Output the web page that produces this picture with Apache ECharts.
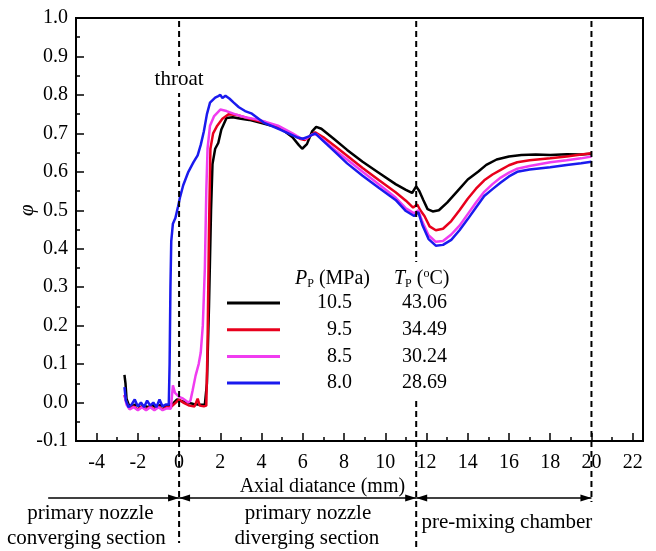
<!DOCTYPE html>
<html>
<head>
<meta charset="utf-8">
<script src="https://cdn.jsdelivr.net/npm/echarts@6/dist/echarts.min.js"></script>
<style>
html, body { margin: 0; padding: 0; background: #fff; }
#chart { width: 656px; height: 551px; }
</style>
</head>
<body>
<div id="chart"></div>
<script>
// legend values
var pressures = ['10.5', '9.5', '8.5', '8.0'];
var temps = ['43.06', '34.49', '30.24', '28.69'];
var colors = ['#000000', '#e8001c', '#f03cf0', '#1a1aee'];

// axis ticks
var xMajorTicks = [-4, -2, 0, 2, 4, 6, 8, 10, 12, 14, 16, 18, 20, 22];
var xMinorTicks = [-5, -3, -1, 1, 3, 5, 7, 9, 11, 13, 15, 17, 19, 21];
var sectionBounds = [0, 11.5, 20];

// phi along the axis
var phi105 = [[-2.65,0.072],[-2.6,0.05],[-2.55,0.01],[-2.45,-0.005],[-2.3,-0.01],[-2.1,-0.005],[-1.9,-0.012],[-1.7,-0.008],[-1.5,-0.012],[-1.3,-0.006],[-1.1,-0.013],[-0.9,-0.006],[-0.7,-0.012],[-0.5,-0.006],[-0.3,-0.003],[-0.1,0.008],[0.1,0.004],[0.4,0.0],[0.7,-0.004],[1.0,-0.006],[1.25,-0.005],[1.35,0.05],[1.45,0.25],[1.55,0.5],[1.62,0.62],[1.75,0.66],[1.9,0.675],[2.05,0.71],[2.3,0.74],[2.6,0.742],[3.0,0.738],[3.4,0.735],[4.0,0.727],[4.5,0.72],[5.0,0.71],[5.5,0.69],[5.8,0.67],[5.97,0.66],[6.2,0.672],[6.45,0.705],[6.65,0.717],[6.9,0.712],[7.5,0.686],[8.15,0.657],[8.9,0.626],[9.7,0.597],[10.5,0.568],[11.0,0.553],[11.3,0.545],[11.5,0.562],[11.65,0.55],[11.85,0.526],[12.05,0.503],[12.3,0.497],[12.6,0.5],[13.0,0.52],[13.5,0.55],[14.0,0.58],[14.5,0.6],[14.9,0.618],[15.4,0.632],[16.0,0.64],[16.6,0.644],[17.3,0.645],[18.0,0.644],[18.8,0.646],[19.5,0.645],[20.0,0.647]];
var phi95 = [[-2.65,0.02],[-2.55,0.0],[-2.4,-0.015],[-2.2,-0.01],[-2.0,-0.018],[-1.8,-0.01],[-1.6,-0.018],[-1.4,-0.01],[-1.2,-0.018],[-1.0,-0.01],[-0.8,-0.018],[-0.6,-0.012],[-0.4,-0.012],[-0.2,-0.002],[0.0,0.008],[0.2,0.0],[0.5,-0.008],[0.75,-0.01],[0.9,0.01],[1.0,-0.008],[1.2,-0.01],[1.32,-0.008],[1.38,0.15],[1.45,0.45],[1.52,0.66],[1.65,0.7],[1.85,0.72],[2.1,0.738],[2.4,0.75],[2.8,0.748],[3.3,0.74],[4.0,0.73],[4.8,0.718],[5.5,0.697],[5.9,0.685],[6.1,0.683],[6.4,0.695],[6.6,0.703],[7.0,0.69],[7.6,0.665],[8.15,0.642],[8.9,0.61],[9.7,0.578],[10.5,0.547],[11.0,0.525],[11.35,0.507],[11.55,0.515],[11.7,0.5],[11.9,0.485],[12.15,0.458],[12.45,0.448],[12.8,0.452],[13.2,0.472],[13.6,0.5],[14.0,0.53],[14.4,0.556],[14.8,0.578],[15.2,0.593],[15.6,0.605],[16.0,0.617],[16.4,0.625],[17.0,0.63],[18.0,0.635],[18.8,0.64],[19.5,0.645],[20.0,0.648]];
var phi85 = [[-2.65,0.02],[-2.55,-0.005],[-2.4,-0.018],[-2.2,-0.012],[-2.0,-0.02],[-1.8,-0.012],[-1.6,-0.02],[-1.4,-0.012],[-1.2,-0.02],[-1.0,-0.012],[-0.8,-0.02],[-0.6,-0.015],[-0.4,-0.016],[-0.3,0.045],[-0.2,0.025],[0.0,0.015],[0.2,0.01],[0.45,0.0],[0.55,0.005],[0.65,0.03],[0.8,0.07],[0.95,0.1],[1.05,0.13],[1.15,0.2],[1.25,0.35],[1.32,0.55],[1.38,0.66],[1.5,0.72],[1.7,0.745],[2.0,0.762],[2.3,0.758],[2.7,0.75],[3.2,0.742],[3.7,0.737],[4.2,0.73],[4.8,0.72],[5.5,0.7],[5.9,0.687],[6.15,0.686],[6.45,0.697],[6.65,0.698],[7.0,0.682],[7.6,0.655],[8.15,0.632],[8.9,0.6],[9.7,0.567],[10.5,0.533],[11.0,0.505],[11.4,0.492],[11.6,0.5],[11.8,0.47],[12.1,0.435],[12.45,0.418],[12.8,0.42],[13.2,0.437],[13.6,0.46],[14.0,0.49],[14.4,0.52],[14.8,0.548],[15.2,0.568],[15.6,0.585],[16.0,0.598],[16.4,0.608],[17.0,0.615],[18.0,0.625],[18.8,0.63],[19.5,0.635],[20.0,0.64]];
var phi80 = [[-2.65,0.04],[-2.58,0.005],[-2.45,-0.012],[-2.3,-0.005],[-2.15,0.008],[-2.0,-0.01],[-1.85,0.0],[-1.7,-0.012],[-1.55,0.005],[-1.4,-0.008],[-1.25,0.0],[-1.1,-0.012],[-0.95,0.008],[-0.8,-0.01],[-0.65,-0.005],[-0.5,-0.005],[-0.46,0.1],[-0.42,0.3],[-0.38,0.42],[-0.3,0.465],[-0.18,0.48],[-0.05,0.51],[0.05,0.535],[0.2,0.565],[0.45,0.6],[0.7,0.625],[0.9,0.643],[1.05,0.67],[1.2,0.705],[1.35,0.75],[1.5,0.78],[1.75,0.793],[1.9,0.797],[2.0,0.8],[2.1,0.792],[2.25,0.798],[2.45,0.79],[2.65,0.78],[2.9,0.768],[3.2,0.758],[3.5,0.752],[4.1,0.728],[4.9,0.71],[5.7,0.69],[6.0,0.686],[6.3,0.692],[6.6,0.7],[7.0,0.68],[7.6,0.65],[8.15,0.622],[8.9,0.59],[9.7,0.558],[10.5,0.527],[11.0,0.498],[11.4,0.485],[11.6,0.495],[11.8,0.462],[12.1,0.425],[12.45,0.408],[12.8,0.41],[13.2,0.423],[13.6,0.448],[14.0,0.477],[14.4,0.507],[14.8,0.537],[15.2,0.555],[15.6,0.572],[16.0,0.588],[16.4,0.6],[17.0,0.606],[18.0,0.612],[18.8,0.618],[19.5,0.622],[20.0,0.626]];

var allData = [phi105, phi95, phi85, phi80];
var font = '"Liberation Serif", "DejaVu Serif", serif';

var chart = echarts.init(document.getElementById('chart'));

var series = allData.map(function (d, i) {
    return {
        name: pressures[i],
        type: 'line',
        data: d,
        symbol: 'none',
        lineStyle: { color: colors[i], width: 2.5 },
        itemStyle: { color: colors[i] }
    };
});

chart.setOption({
    animation: false,
    backgroundColor: '#fff',
    grid: { left: 76, right: 13, top: 18, bottom: 110, show: true, borderColor: '#000', borderWidth: 2 },
    legend: {
        orient: 'vertical',
        left: 227,
        top: 293,
        z: 80,
        padding: 0,
        icon: 'rect',
        itemWidth: 53,
        itemHeight: 3,
        itemGap: 6.7,
        data: pressures,
        selectedMode: false,
        formatter: function (name) {
            var i = pressures.indexOf(name);
            return '{a|' + name + '}{b|' + temps[i] + '}';
        },
        textStyle: {
            rich: {
                a: { width: 67, align: 'right', fontSize: 20, lineHeight: 20, fontFamily: font, color: '#000' },
                b: { width: 95, align: 'right', fontSize: 20, lineHeight: 20, fontFamily: font, color: '#000' }
            }
        }
    },
    xAxis: [{
        type: 'value',
        min: -5,
        max: 22.5,
        axisLine: { onZero: false, lineStyle: { color: '#000', width: 2 } },
        axisTick: { inside: true, length: 8, lineStyle: { color: '#000', width: 1.5 }, customValues: xMajorTicks },
        axisLabel: { fontSize: 20, fontFamily: font, color: '#000', margin: 12, customValues: xMajorTicks },
        splitLine: { show: false }
    }, {
        type: 'value',
        min: -5,
        max: 22.5,
        position: 'bottom',
        axisLine: { show: false, onZero: false },
        axisTick: { inside: true, length: 4, lineStyle: { color: '#000', width: 1.5 }, customValues: xMinorTicks },
        axisLabel: { show: false },
        splitLine: { show: false }
    }],
    yAxis: {
        type: 'value',
        min: -0.1,
        max: 1.0,
        interval: 0.1,
        axisLine: { show: true, onZero: false, lineStyle: { color: '#000', width: 2 } },
        axisTick: { inside: true, length: 8, lineStyle: { color: '#000', width: 1.5 } },
        minorTick: { show: true, splitNumber: 2, length: 4, lineStyle: { color: '#000', width: 1.5 } },
        axisLabel: {
            fontSize: 20, fontFamily: font, color: '#000', margin: 8,
            formatter: function (v) { return v.toFixed(1); }
        },
        splitLine: { show: false },
        minorSplitLine: { show: false }
    },
    series: series
});

// annotations placed from the axis scales
function px(x, y) {
    return chart.convertToPixel({ xAxisIndex: 0, yAxisIndex: 0 }, [x, y]);
}
var plotTop = px(0, 1.0)[1];
var plotBottom = px(0, -0.1)[1];
var arrowY = plotBottom + 57;
var graphics = [];
var dashBottoms = [plotBottom + 102, plotBottom + 110, plotBottom + 61];

sectionBounds.forEach(function (b, i) {
    var x = px(b, 0)[0];
    graphics.push({
        type: 'line', z: 50,
        shape: { x1: x, y1: plotTop + 3, x2: x, y2: dashBottoms[i] },
        style: { stroke: '#000', lineWidth: 2, lineDash: [6, 4] }
    });
});

// white patch where the legend sits over the 11.5 mm line
var gapX = px(sectionBounds[1], 0)[0];
graphics.push({
    type: 'rect', z: 55,
    shape: { x: gapX - 6, y: 262, width: 12, height: 138 },
    style: { fill: '#fff' }
});

function head(x, y, dir) {
    return {
        type: 'polygon', z: 60,
        shape: { points: [[x, y], [x - dir * 11, y - 3.5], [x - dir * 11, y + 3.5]] },
        style: { fill: '#000' }
    };
}
function arrow(x1, x2, both) {
    var a = px(x1, 0)[0], b = px(x2, 0)[0];
    graphics.push({ type: 'line', z: 60, shape: { x1: a, y1: arrowY, x2: b, y2: arrowY }, style: { stroke: '#000', lineWidth: 1.5 } });
    graphics.push(head(b, arrowY, 1));
    if (both) graphics.push(head(a, arrowY, -1));
}
arrow(-6.35, 0, false);
arrow(0, 11.5, true);
arrow(11.5, 20, true);

function label(text, x, y, size) {
    graphics.push({
        type: 'text', z: 70,
        x: x, y: y,
        style: { text: text, fontSize: size || 21, fontFamily: font, fill: '#000', align: 'center', verticalAlign: 'middle' }
    });
}
label('Axial diatance (mm)', px(6.95, 0)[0], plotBottom + 46, 20);
label('primary nozzle', px(-4.3, 0)[0], arrowY + 15);
label('converging section', px(-4.5, 0)[0], arrowY + 40);
label('primary nozzle', px(6.25, 0)[0], arrowY + 15);
label('diverging section', px(6.2, 0)[0], arrowY + 40);
label('pre-mixing chamber', px(15.9, 0)[0], arrowY + 24);

// throat label with white backing over the dashed line
graphics.push({
    type: 'text', z: 80,
    x: px(0, 0)[0], y: px(0, 0.84)[1],
    style: {
        text: 'throat', fontSize: 21, fontFamily: font, fill: '#000',
        align: 'center', verticalAlign: 'middle',
        backgroundColor: '#fff', padding: [3, 2]
    }
});

// y axis name
var phiPos = px(-5, 0.5);
graphics.push({
    type: 'text', z: 70,
    x: phiPos[0] - 49, y: phiPos[1], rotation: Math.PI / 2,
    style: { text: 'φ', fontSize: 21, fontStyle: 'italic', fontFamily: font, fill: '#000', align: 'center', verticalAlign: 'middle' }
});

// legend header
graphics.push({
    type: 'text', z: 70,
    x: 295, y: 279,
    style: {
        text: '{i|P}{s|P} (MPa)',
        fontSize: 20, fontFamily: font, fill: '#000', verticalAlign: 'middle',
        rich: {
            i: { fontSize: 20, fontStyle: 'italic', fontFamily: font },
            s: { fontSize: 12, fontFamily: font, padding: [10, 0, 0, 0] }
        }
    }
});
graphics.push({
    type: 'text', z: 70,
    x: 394, y: 279,
    style: {
        text: '{i|T}{s|P} ({o|o}C)',
        fontSize: 20, fontFamily: font, fill: '#000', verticalAlign: 'middle',
        rich: {
            i: { fontSize: 20, fontStyle: 'italic', fontFamily: font },
            s: { fontSize: 12, fontFamily: font, padding: [10, 0, 0, 0] },
            o: { fontSize: 12, fontFamily: font, padding: [0, 0, 10, 0] }
        }
    }
});

chart.setOption({ graphic: graphics });
</script>
</body>
</html>
